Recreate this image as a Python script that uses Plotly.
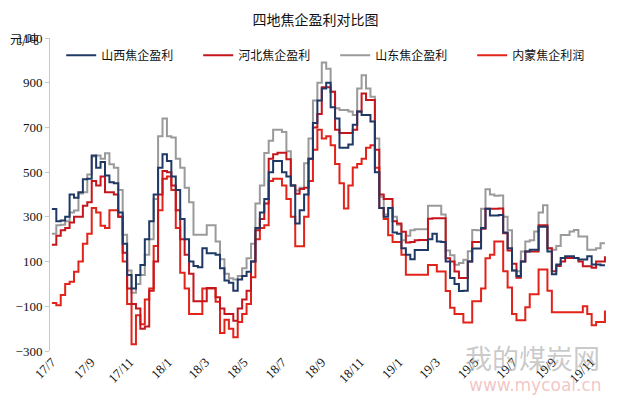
import pandas as pd
import plotly.graph_objects as go

# weekly observation dates
dates = pd.date_range("2017-07-01", periods=126, freq="7D")

shanxi = [335, 280, 284, 300, 400, 385, 410, 468, 470, 575, 520, 545, 485, 455, 450, 320, 180, 40, -20, 40,
          85, 200, 280, 400, 520, 580, 550, 480, 420, 290, 200, 100, 80, 75, 160, 137, 137, 130, 70, 15,
          5, -30, 20, 35, 55, 100, 250, 320, 380, 500, 550, 550, 500, 480, 440, 270, 330, 400, 560, 720,
          820, 874, 900, 790, 740, 609, 609, 624, 712, 771, 756, 756, 727, 500, 340, 300, 340, 230, 225, 160,
          130, 110, 152, 152, 152, 200, 225, 190, 188, 100, 26, 0, -32, -30, 100, 159, 159, 250, 336, 306,
          306, 308, 230, 160, 60, 35, 100, 145, 153, 153, 256, 256, 145, 43, 87, 116, 124, 124, 116, 109,
          109, 124, 87, 87, 84, 84]

hebei = [175, 215, 240, 250, 275, 300, 300, 350, 365, 460, 440, 480, 410, 410, 400, 300, 140, -20, -90, -110,
         -200, -190, -30, 100, 400, 505, 500, 440, 330, 200, 130, 45, -77, -77, -77, -18, -18, -60, -110, -135,
         -135, -165, -110, -70, -30, 100, 240, 290, 360, 560, 580, 587, 587, 558, 440, 403, 425, 430, 560, 700,
         760, 880, 880, 860, 690, 675, 675, 675, 690, 771, 852, 823, 823, 600, 400, 380, 380, 280, 270, 233,
         185, 188, 195, 196, 196, 291, 294, 294, 294, 115, 100, 56, 26, 26, 100, 188, 188, 247, 336, 336,
         336, 337, 227, 150, 90, 28, 100, 145, 145, 145, 263, 263, 160, 57, 80, 100, 116, 116, 116, 100,
         79, 79, 72, 100, 100, 124]

shandong = [225, 262, 265, 280, 320, 328, 405, 410, 490, 570, 575, 560, 585, 535, 520, 420, 220, 60, -40, 0,
            40, 130, 200, 380, 660, 740, 660, 655, 560, 520, 430, 365, 220, 220, 220, 262, 262, 190, 110, 45,
            25, 20, 35, 70, 115, 180, 360, 440, 586, 640, 690, 690, 680, 594, 440, 418, 430, 540, 650, 820,
            900, 990, 962, 860, 786, 778, 778, 771, 756, 874, 933, 874, 837, 650, 390, 310, 340, 300, 265, 195,
            215, 240, 245, 245, 245, 350, 350, 350, 310, 150, 128, 86, 94, 108, 146, 241, 240, 336, 424, 400,
            394, 396, 300, 240, 60, 57, 145, 190, 195, 234, 320, 352, 160, 153, 170, 219, 219, 234, 241, 212,
            212, 153, 153, 160, 182, 182]

neimeng = [-85, -95, -50, 0, 10, 55, 100, 180, 225, 340, 320, 260, 250, 330, 330, 300, 100, -90, -270, -140,
           -180, -70, -20, 170, 330, 470, 480, 420, 250, 50, -20, -135, -135, -135, -20, -20, -20, -80, -220, -160,
           -200, -238, -170, -135, -90, 30, 200, 250, 262, 460, 470, 470, 440, 380, 300, 168, 168, 300, 460, 600,
           690, 650, 660, 620, 536, 450, 337, 440, 521, 536, 560, 609, 620, 520, 340, 290, 218, 188, 188, 130,
           41, 41, 41, 41, 41, 85, 85, 56, 56, -32, -106, -135, -135, -172, -172, -77, -77, -20, 115, 130,
           190, 190, 57, -16, -134, -163, -163, -104, -46, -46, 65, 65, -31, -127, -127, -127, -127, -127, -127, -127,
           -100, -134, -185, -170, -170, -119]

series_names = ["山西焦企盈利", "河北焦企盈利", "山东焦企盈利", "内蒙焦企利润"]
series_values = [shanxi, hebei, shandong, neimeng]
series_colors = ["#1F3864", "#C4161C", "#9A9A9A", "#E2231A"]

tick_dates = ["2017-07-01", "2017-09-01", "2017-11-01", "2018-01-01", "2018-03-01", "2018-05-01",
              "2018-07-01", "2018-09-01", "2018-11-01", "2019-01-01", "2019-03-01", "2019-05-01",
              "2019-07-01", "2019-09-01", "2019-11-01"]
tick_labels = ["17/7", "17/9", "17/11", "18/1", "18/3", "18/5", "18/7", "18/9", "18/11",
               "19/1", "19/3", "19/5", "19/7", "19/9", "19/11"]
y_ticks = [-300, -100, 100, 300, 500, 700, 900, 1100]

x_range = ["2017-06-28", "2019-12-01"]
y_range = [-300, 1100]

fig = go.Figure()
# draw order: gray behind, reds, navy on top
order = [2, 3, 1, 0]
for i in order:
    fig.add_trace(go.Scatter(
        x=dates, y=series_values[i], name=series_names[i], mode="lines",
        line=dict(color=series_colors[i], width=2, shape="hv"),
        legendrank=i + 1,
    ))

zero_pos = (0 - y_range[0]) / (y_range[1] - y_range[0])

fig.update_layout(
    width=631, height=401,
    margin=dict(l=50, r=21, t=38, b=50),
    paper_bgcolor="white", plot_bgcolor="white",
    title=dict(text="四地焦企盈利对比图", x=0.5, xanchor="center", y=0.95, yanchor="middle",
               font=dict(family="Noto Sans CJK SC", size=14, color="#111")),
    showlegend=True,
    legend=dict(orientation="h", x=0.02, y=0.945, xanchor="left", yanchor="middle",
                entrywidth=92, entrywidthmode="pixels", bgcolor="rgba(0,0,0,0)",
                font=dict(family="Noto Sans CJK SC", size=12, color="#111"),
                itemwidth=30, traceorder="normal"),
    xaxis=dict(type="date", range=x_range, tickvals=tick_dates, ticktext=tick_labels,
               tickangle=-45, showline=False, ticks="", showgrid=False, zeroline=False,
               tickfont=dict(family="Liberation Serif", size=13, color="#111")),
    xaxis2=dict(type="date", range=x_range, overlaying="x", anchor="free", position=zero_pos,
                tickvals=tick_dates, showticklabels=False, showline=True, linecolor="#D0D0D0",
                linewidth=1, ticks="outside", ticklen=4, tickcolor="#D0D0D0", showgrid=False),
    yaxis=dict(range=y_range, tickvals=y_ticks, showgrid=False, zeroline=False,
               showline=True, linecolor="#C8C8C8", linewidth=1, ticks="outside", ticklen=4,
               tickcolor="#C8C8C8",
               tickfont=dict(family="Liberation Serif", size=13, color="#111")),
    annotations=[
        dict(text="元/吨", xref="paper", yref="paper", x=-0.045, y=1.0, xanchor="center", yanchor="middle",
             showarrow=False, font=dict(family="Noto Sans CJK SC", size=12, color="#111")),
        dict(text="我的煤炭网", xref="paper", yref="paper", x=0.985, y=-0.02, xanchor="right", yanchor="middle",
             showarrow=False, font=dict(family="Noto Sans CJK SC", size=27, color="rgba(150,150,150,0.5)")),
        dict(text="www.mycoal.cn", xref="paper", yref="paper", x=0.99, y=-0.11, xanchor="right", yanchor="middle",
             showarrow=False, font=dict(family="DejaVu Sans", size=17, color="rgba(230,140,140,0.5)")),
    ],
)

fig.write_html("out.html", config={"displayModeBar": False},
               post_script="document.body.style.margin='0px';")
